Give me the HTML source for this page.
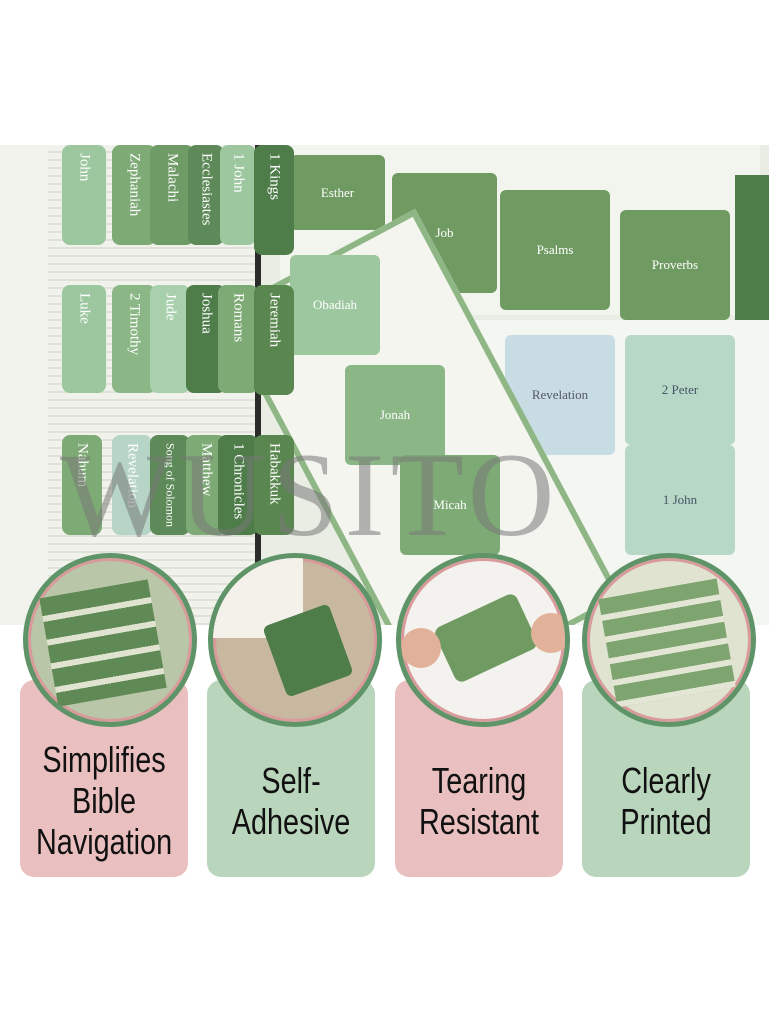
<!DOCTYPE html><html><head><style>
body{margin:0;width:769px;height:1024px;background:#fff;position:relative;overflow:hidden;font-family:"Liberation Sans",sans-serif}
.a{position:absolute}
.tab{position:absolute;border-radius:8px;color:#fff;font-family:"Liberation Serif",serif;font-size:15px;writing-mode:vertical-rl;display:flex;align-items:center;justify-content:flex-start;padding-top:8px;box-sizing:border-box}
.card{position:absolute;top:680px;width:168px;height:197px;border-radius:14px;display:flex;align-items:center;justify-content:center;text-align:center;font-size:36px;line-height:41px;color:#111;padding-top:44px;box-sizing:border-box;z-index:1}
.card span{display:inline-block;transform:scaleX(.8);white-space:nowrap}
.circ{position:absolute;width:164px;height:164px;border-radius:50%;border:5px solid #5e9468;box-shadow:inset 0 0 0 3px #d89a9a;overflow:hidden;background:#b9c7a8;top:553px;z-index:2}
.st{position:absolute;background:#6f9a62;border-radius:6px;color:#fff;font-family:"Liberation Serif",serif;font-size:13px;display:flex;align-items:center;justify-content:center}
</style></head><body>
<div class="a" style="left:0;top:145px;width:769px;height:480px;background:#e9ede4;overflow:hidden">
 <div class="a" style="left:280px;top:0;width:480px;height:170px;background:#f2f4ee"></div>
 <div class="st" style="left:290px;top:10px;width:95px;height:75px">Esther</div>
 <div class="st" style="left:392px;top:28px;width:105px;height:120px">Job</div>
 <div class="st" style="left:500px;top:45px;width:110px;height:120px">Psalms</div>
 <div class="st" style="left:620px;top:65px;width:110px;height:110px">Proverbs</div>
 <div class="a" style="left:735px;top:30px;width:40px;height:150px;background:#4f7d4a"></div>
 <div class="a" style="left:470px;top:175px;width:300px;height:320px;background:#f4f6f2"></div>
 <div class="st" style="left:505px;top:190px;width:110px;height:120px;background:#c8dde3;color:#556">Revelation</div>
 <div class="st" style="left:625px;top:190px;width:110px;height:110px;background:#b7d8c7;color:#456">2 Peter</div>
 <div class="st" style="left:625px;top:300px;width:110px;height:110px;background:#b7d8c7;color:#456">1 John</div>
 <div class="a" style="left:310px;top:90px;width:210px;height:430px;background:#f4f5ef;border:6px solid #8fb786;transform:rotate(-28deg)"></div>
 <div class="st" style="left:290px;top:110px;width:90px;height:100px;background:#9cc79f">Obadiah</div>
 <div class="st" style="left:345px;top:220px;width:100px;height:100px;background:#8ab785">Jonah</div>
 <div class="st" style="left:400px;top:310px;width:100px;height:100px;background:#7eaa76">Micah</div>
 <div class="a" style="left:0;top:0;width:48px;height:480px;background:#f3f3ee"></div>
 <div class="a" style="left:48px;top:0;width:210px;height:480px;background:repeating-linear-gradient(#f1f2ec 0 6px,#dfe2d8 6px 8px)"></div>
 <div class="a" style="left:255px;top:0;width:6px;height:480px;background:#2b2b2b"></div>
 <div class="tab" style="left:62px;top:0;width:44px;height:100px;background:#9cc79f">John</div>
 <div class="tab" style="left:112px;top:0;width:44px;height:100px;background:#7eaa76">Zephaniah</div>
 <div class="tab" style="left:150px;top:0;width:44px;height:100px;background:#6f9b66">Malachi</div>
 <div class="tab" style="left:188px;top:0;width:36px;height:100px;background:#5d8a58">Ecclesiastes</div>
 <div class="tab" style="left:220px;top:0;width:36px;height:100px;background:#9cc79f">1 John</div>
 <div class="tab" style="left:254px;top:0;width:40px;height:110px;background:#4f7d4a">1 Kings</div>
 <div class="tab" style="left:62px;top:140px;width:44px;height:108px;background:#9cc79f">Luke</div>
 <div class="tab" style="left:112px;top:140px;width:44px;height:108px;background:#8ab785">2 Timothy</div>
 <div class="tab" style="left:150px;top:140px;width:40px;height:108px;background:#a9d0ac">Jude</div>
 <div class="tab" style="left:186px;top:140px;width:40px;height:108px;background:#4f7d4a">Joshua</div>
 <div class="tab" style="left:218px;top:140px;width:40px;height:108px;background:#7eaa76">Romans</div>
 <div class="tab" style="left:254px;top:140px;width:40px;height:110px;background:#5a874f">Jeremiah</div>
 <div class="tab" style="left:62px;top:290px;width:40px;height:100px;background:#7eaa76">Nahum</div>
 <div class="tab" style="left:112px;top:290px;width:40px;height:100px;background:#b6d5c7">Revelation</div>
 <div class="tab" style="left:150px;top:290px;width:40px;height:100px;background:#5d8a58;font-size:12px">Song of Solomon</div>
 <div class="tab" style="left:186px;top:290px;width:40px;height:100px;background:#7eaa76">Matthew</div>
 <div class="tab" style="left:218px;top:290px;width:40px;height:100px;background:#4f7d4a">1 Chronicles</div>
 <div class="tab" style="left:254px;top:290px;width:40px;height:100px;background:#5a874f">Habakkuk</div>
 <div class="a" style="left:60px;top:290px;width:680px;height:120px;color:rgba(120,120,120,.55);font-family:'Liberation Serif',serif;font-size:120px;letter-spacing:6px;line-height:120px">WUSITO</div>
</div>
<div class="circ" style="left:23px"><div class="a" style="left:20px;top:30px;width:110px;height:110px;background:repeating-linear-gradient(#5f8a56 0 18px,#dfe3cf 18px 24px);transform:rotate(-10deg)"></div></div>
<div class="circ" style="left:208px;background:#c8b8a0"><div class="a" style="left:0;top:0;width:90px;height:80px;background:#f3f1ea"></div><div class="a" style="left:60px;top:55px;width:70px;height:75px;background:#4f7d4a;border-radius:6px;transform:rotate(-20deg)"></div></div>
<div class="circ" style="left:396px;background:#f4f2ee"><div class="a" style="left:40px;top:50px;width:90px;height:60px;background:#6f9a62;border-radius:8px;transform:rotate(-25deg)"></div><div class="a" style="left:0;top:70px;width:40px;height:40px;background:#e2b19a;border-radius:50%"></div><div class="a" style="left:130px;top:55px;width:40px;height:40px;background:#e2b19a;border-radius:50%"></div></div>
<div class="circ" style="left:582px;background:#dfe3cf"><div class="a" style="left:20px;top:30px;width:120px;height:110px;background:repeating-linear-gradient(#7ea46f 0 16px,#e3e6d4 16px 22px);transform:rotate(-10deg)"></div></div>
<div class="card" style="left:20px;background:#e9bfbf"><span>Simplifies<br>Bible<br>Navigation</span></div>
<div class="card" style="left:207px;background:#b9d6bd"><span>Self-<br>Adhesive</span></div>
<div class="card" style="left:395px;background:#e9bfbf"><span>Tearing<br>Resistant</span></div>
<div class="card" style="left:582px;background:#b9d6bd"><span>Clearly<br>Printed</span></div>
</body></html>
